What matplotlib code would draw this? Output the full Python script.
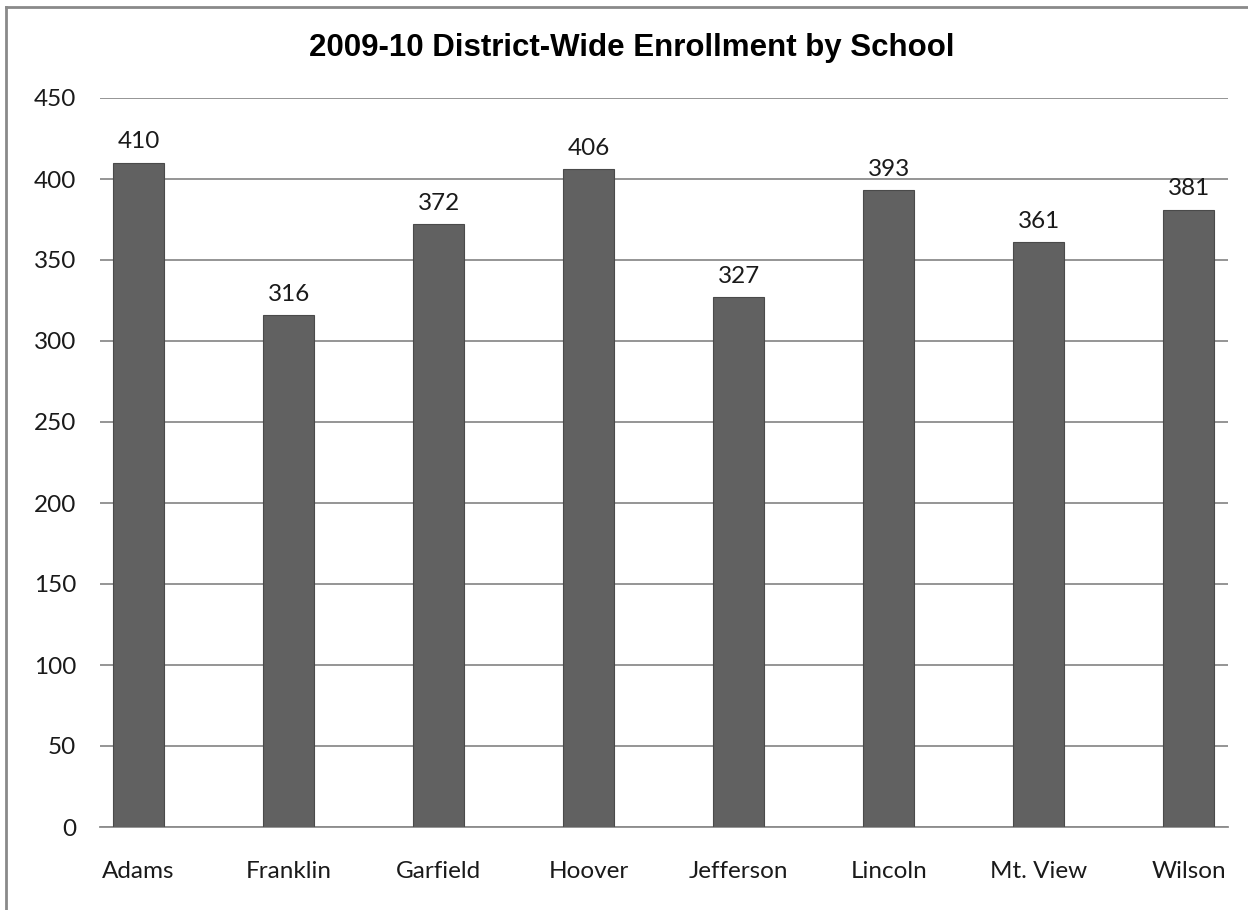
import matplotlib
matplotlib.use("Agg")
import matplotlib.pyplot as plt
from matplotlib.lines import Line2D

schools = ["Adams", "Franklin", "Garfield", "Hoover", "Jefferson", "Lincoln", "Mt. View", "Wilson"]
enrollment = [410, 316, 372, 406, 327, 393, 361, 381]
yticks = [0, 50, 100, 150, 200, 250, 300, 350, 400, 450]

W, H = 1248, 910
PX = 72 / 100  # points per pixel
fig = plt.figure(figsize=(W/100, H/100), dpi=100)
ax = fig.add_axes([100/W, 1-827/H, 1128/W, (827-98)/H])

x = list(range(len(schools)))
ax.bar(x, enrollment, width=0.34, color="#616161", edgecolor="#4a4a4a", linewidth=0.8, zorder=3)
ax.set_ylim(0, 450)
ax.set_xlim(-38.5/150, 7 + 39/150)
ax.set_yticks(yticks)
ax.yaxis.grid(True, color="#8c8c8c", linewidth=1.3, zorder=0)
ax.set_axisbelow(True)
for s in ["left", "right", "top"]:
    ax.spines[s].set_visible(False)
ax.spines["bottom"].set_color("#8c8c8c")
ax.spines["bottom"].set_linewidth(1.3)
ax.tick_params(axis="both", length=0, labelsize=17.5, colors="#1a1a1a")
ax.tick_params(axis="y", pad=24*PX)
ax.tick_params(axis="x", pad=34*PX)
ax.set_xticks(x)
ax.set_xticklabels(schools, fontfamily="Lato")
for lab in ax.get_yticklabels():
    lab.set_fontfamily("Lato")

for xi, v in zip(x, enrollment):
    ax.annotate(str(v), (xi, v), xytext=(0, 21*PX), textcoords="offset points",
                ha="center", va="center", fontsize=17.5, fontfamily="Lato", color="#1a1a1a")

fig.text(632/W, 1-48/H, "2009-10 District-Wide Enrollment by School", ha="center", va="center",
         fontsize=22.5, fontweight="bold", fontfamily="Liberation Sans")

fig.add_artist(Line2D([5.5/W, 5.5/W], [0, 1-7/H], color="#8a8a8a", linewidth=2, transform=fig.transFigure))
fig.add_artist(Line2D([5.5/W, 1], [1-7/H, 1-7/H], color="#8a8a8a", linewidth=2, transform=fig.transFigure))

fig.savefig("out.png", dpi=100)
